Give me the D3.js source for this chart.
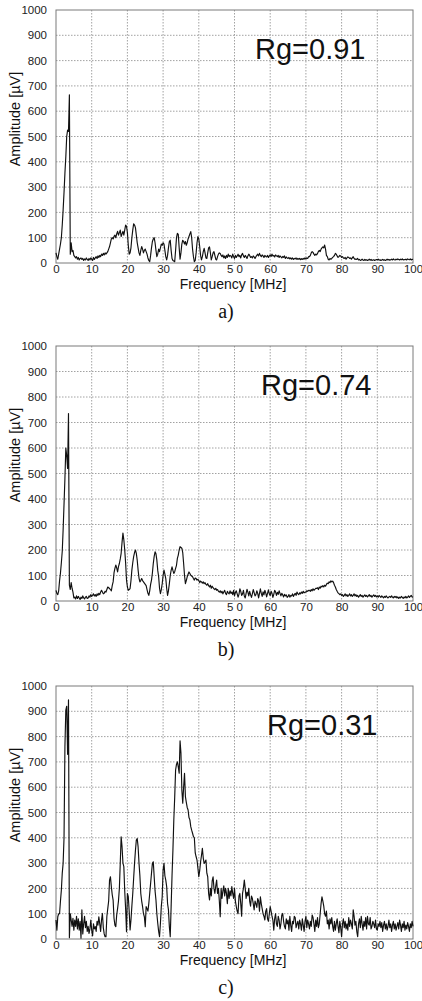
<!DOCTYPE html>
<html><head><meta charset="utf-8">
<script src="https://cdn.jsdelivr.net/npm/d3@7"></script>
<style>html,body{margin:0;padding:0;background:#fff}svg{display:block}</style>
</head><body>
<script>
// ---- data ----
const panelLabels = ["a)", "b)", "c)"];
const rgLabels = ["Rg=0.91", "Rg=0.74", "Rg=0.31"];
const xTickValues = [0,10,20,30,40,50,60,70,80,90,100];
const xTickLabels = ["0","10","20","30","40","5 0","60","70","80","90","100"];
const yTickValues = [0,100,200,300,400,500,600,700,800,900,1000];
const xTitle = "Frequency [MHz]";
const yTitle = "Amplitude [\u00b5V]";
const freqStep = 0.25; // MHz between samples

// amplitude [µV], one value per 0.25 MHz from 0 to 100 MHz
const ampA = [
 40,25,15,35, 55,75,100,150, 210,280,355,420, 500,525,520,665, 35,80,45,50,
 30,25,20,25, 15,22,12,18, 20,14,18,10, 16,12,20,14, 10,18,12,20,
 15,10,22,14, 20,25,18,28, 22,30,25,35, 30,38,32,40, 35,40,45,55,
 65,80,95,100, 95,105,110,100, 115,125,110,120, 130,105,115,125, 110,130,150,145,
 120,70,35,40, 60,100,130,155, 150,140,110,80, 60,40,30,50, 65,55,40,50,
 55,45,35,20, 10,5,30,60, 85,95,100,80, 50,25,35,55, 45,60,75,70,
 80,75,50,25, 12,30,60,85, 90,50,18,10, 8,5,50,100, 117,113,60,15,
 40,75,90,85, 75,85,70,80, 95,105,115,124, 100,55,25,5, 10,40,80,104,
 95,65,30,12, 25,45,58,40, 20,18,40,60, 64,40,12,25, 40,45,30,15,
 12,25,35,40, 38,30,25,32, 20,28,18,30, 22,35,25,30, 28,20,35,25,
 18,30,22,28, 35,25,30,20, 32,38,28,22, 30,25,18,28, 35,30,22,25,
 20,28,24,18, 25,30,35,28, 38,30,25,32, 28,22,30,26, 24,30,22,28,
 32,26,35,28, 30,24,32,28, 25,30,22,28, 24,20,26,22, 28,18,24,20,
 18,22,16,20, 15,20,14,18, 16,20,14,18, 15,18,13,17, 14,18,15,20,
 16,20,18,25, 25,30,40,45, 42,35,30,35, 32,38,45,50, 45,55,60,64,
 60,71,55,30, 25,15,12,18, 15,18,22,25, 30,38,35,28, 22,25,30,28,
 22,25,20,18, 22,15,20,24, 22,18,20,15, 20,25,18,14, 16,14,18,12,
 14,10,12,15, 12,10,14,11, 13,10,12,15, 11,14,10,12, 13,10,12,14,
 12,15,11,13, 10,12,14,11, 13,10,12,15, 12,14,11,13, 15,12,16,13,
 12,15,13,16, 14,12,15,13, 16,12,14,13, 15,12,16,14, 13,16,12,15,
 14
];
const ampB = [
 42,30,25,40, 80,110,150,195, 280,380,480,600, 570,520,735,62, 45,72,50,35,
 12,15,8,20, 10,18,12,6, 15,10,20,12, 8,15,18,10, 12,20,15,25,
 18,22,28,20, 25,18,28,22, 30,25,35,42, 35,28,30,38, 35,45,55,52,
 49,45,40,60, 75,110,128,141, 130,114,135,147, 165,187,230,266, 240,200,150,82,
 55,42,45,49, 80,121,150,174, 190,200,187,160, 121,90,75,80, 88,80,75,70,
 65,60,45,30, 22,40,65,82, 110,147,175,193, 185,160,120,95, 50,29,45,68,
 100,121,105,88, 50,22,40,68, 100,120,134,120, 108,115,128,140, 167,180,200,213,
 210,207,190,147, 100,68,80,95, 105,114,108,101, 98,95,88,82, 90,88,82,85,
 80,72,78,75, 70,75,68,72, 65,62,68,60, 55,62,50,58, 52,48,45,50,
 42,45,38,35, 40,32,38,28, 35,42,30,25, 38,32,28,40, 30,35,25,42,
 20,33,40,28, 15,26,48,38, 22,28,42,20, 12,30,46,35, 20,38,25,14,
 28,45,33,20, 25,40,30,12, 30,48,30,18, 36,24,42,32, 16,30,44,28,
 22,38,30,14, 26,42,36,22, 34,26,40,30, 20,30,24,16, 26,20,24,14,
 18,25,15,22, 20,28,18,25, 30,22,35,28, 25,32,28,35, 30,38,32,35,
 35,40,38,42, 42,38,45,40, 48,42,45,50, 49,52,45,55, 50,58,55,60,
 55,62,58,65, 70,68,75,72, 79,75,78,72, 62,55,45,38, 32,29,25,28,
 22,25,18,22, 28,20,25,18, 22,28,20,25, 18,22,28,20, 25,18,22,15,
 20,25,18,22, 15,20,24,18, 22,16,20,25, 18,22,15,20, 24,18,22,16,
 20,15,22,18, 14,20,16,12, 18,14,20,15, 12,16,18,14, 20,15,12,18,
 14,18,12,16, 10,15,12,18, 14,10,16,12, 18,12,15,20, 14,18,22,16,
 15
];
const ampC = [
 75,35,88,100, 100,150,193,260, 300,400,760,905, 920,730,945,5, 100,75,50,82,
 35,75,50,90, 40,80,35,70, 3,115,20,60, 90,45,70,30, 50,22,40,75,
 35,12,60,40, 49,30,70,55, 88,60,30,75, 101,45,20,9, 9,90,120,150,
 233,246,207,175, 154,82,55,49, 95,120,150,200, 299,404,364,300, 286,190,120,29,
 180,167,110,36, 75,130,180,240, 299,350,391,397, 364,300,250,180, 150,128,100,88,
 49,128,120,110, 141,180,220,260, 299,305,246,190, 154,100,62,30, 9,62,130,167,
 272,299,250,233, 207,140,115,49, 9,128,250,351, 470,560,668,690, 700,680,655,783,
 735,590,537,600, 655,563,540,520, 510,480,471,444, 430,418,405,400, 340,325,312,280,
 246,270,305,330, 358,320,299,305, 312,260,246,180, 154,200,170,230, 246,200,180,210,
 233,180,200,150, 88,200,160,190, 210,170,200,180, 140,200,160,190, 170,207,180,160,
 200,150,128,110, 100,170,180,140, 90,180,200,233, 200,160,185,170, 200,150,130,170,
 160,140,115,150, 140,125,160,150, 110,167,140,120, 100,90,75,110, 120,80,70,100,
 128,110,90,75, 35,80,100,60, 50,90,75,40, 60,95,101,70, 50,40,80,60,
 75,35,90,55, 30,70,60,90, 85,45,60,70, 40,75,60,35, 80,55,30,70,
 90,45,75,60, 40,70,50,95, 85,60,30,75, 50,85,45,60, 100,140,167,150,
 130,100,90,110, 60,75,40,80, 60,85,50,30, 70,35,60,80, 50,25,70,45,
 9,60,80,45, 70,40,60,35, 85,50,75,60, 40,115,90,55, 70,30,9,60,
 80,45,90,60, 35,70,50,85, 40,90,60,55, 85,40,50,70, 60,45,75,40,
 35,60,50,70, 45,65,30,55, 70,40,60,35, 50,75,45,60, 30,55,70,40,
 60,35,50,65, 40,75,55,30, 60,45,70,35, 55,40,65,50, 30,60,45,70,
 50
];
const series = [ampA, ampB, ampC];

// ---- layout ----
const W = 422, H = 1001;
const plotLeft = 56, plotRight = 413;
const plotTops = [10, 346, 686];
const plotHeights = [253, 255, 253];
const rgX = [255, 261, 267];

const svg = d3.select("body").append("svg").attr("width", W).attr("height", H)
  .style("font-family", "'Liberation Sans', Arial, sans-serif");

const x = d3.scaleLinear().domain([0, 100]).range([plotLeft, plotRight]);

series.forEach((vals, k) => {
  const top = plotTops[k], bottom = top + plotHeights[k];
  const y = d3.scaleLinear().domain([0, 1000]).range([bottom, top]);
  const g = svg.append("g");

  // grid
  g.append("g").selectAll("line").data(xTickValues.slice(1, -1)).join("line")
    .attr("x1", d => x(d)).attr("x2", d => x(d)).attr("y1", top).attr("y2", bottom)
    .attr("stroke", "#8a8a8a").attr("stroke-width", 0.8).attr("stroke-dasharray", "1.5,1.5");
  g.append("g").selectAll("line").data(yTickValues.slice(1, -1)).join("line")
    .attr("y1", d => y(d)).attr("y2", d => y(d)).attr("x1", plotLeft).attr("x2", plotRight)
    .attr("stroke", "#8a8a8a").attr("stroke-width", 0.8).attr("stroke-dasharray", "1.5,1.5");

  // frame
  g.append("rect").attr("x", plotLeft).attr("y", top).attr("width", plotRight - plotLeft)
    .attr("height", bottom - top).attr("fill", "none").attr("stroke", "#7a7a7a").attr("stroke-width", 1);

  // axes labels via d3 axes
  const yAxis = d3.axisLeft(y).tickValues(yTickValues).tickSize(0).tickPadding(9).tickFormat(d3.format("d"));
  const ya = g.append("g").attr("transform", `translate(${plotLeft},0)`).call(yAxis);
  ya.select(".domain").remove();
  ya.selectAll("text").attr("font-size", 11.5).attr("fill", "#222")
    .style("font-family", "'Liberation Sans', Arial, sans-serif");

  const xAxis = d3.axisBottom(x).tickValues(xTickValues).tickSize(0).tickPadding(2)
    .tickFormat((d, i) => xTickLabels[i]);
  const xa = g.append("g").attr("transform", `translate(0,${bottom})`).call(xAxis);
  xa.select(".domain").remove();
  xa.selectAll("text").attr("font-size", 11.5).attr("fill", "#222")
    .style("font-family", "'Liberation Sans', Arial, sans-serif");

  // data line
  const line = d3.line().x((d, i) => x(i * freqStep)).y(d => y(d));
  g.append("path").datum(vals).attr("d", line).attr("fill", "none")
    .attr("stroke", "#111").attr("stroke-width", 1.15).attr("stroke-linejoin", "round");

  // titles
  g.append("text").attr("x", 233).attr("y", bottom + 25.5).attr("text-anchor", "middle")
    .attr("font-size", 14).attr("fill", "#111").text(xTitle);
  g.append("text").attr("transform", `translate(20,${top + 109}) rotate(-90)`)
    .attr("text-anchor", "middle").attr("font-size", 14.5).attr("fill", "#111").text(yTitle);

  // Rg annotation
  g.append("text").attr("x", rgX[k]).attr("y", top + 49).attr("font-size", 29)
    .attr("fill", "#111").text(rgLabels[k]);

  // panel label
  g.append("text").attr("x", 226).attr("y", bottom + 55).attr("text-anchor", "middle")
    .attr("font-size", 20).attr("fill", "#111")
    .style("font-family", "'Liberation Serif', 'Times New Roman', serif").text(panelLabels[k]);
});
</script>
</body></html>
